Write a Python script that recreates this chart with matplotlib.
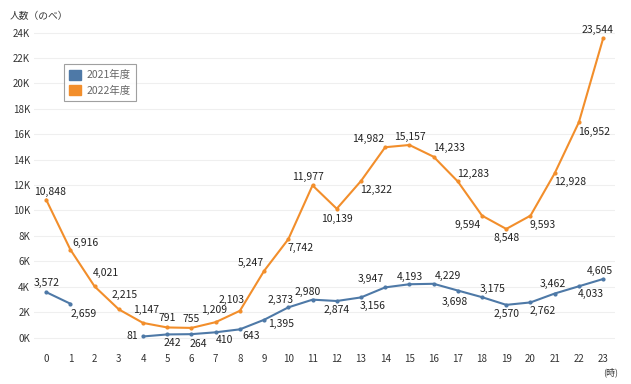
import matplotlib
matplotlib.use('Agg')
import matplotlib.pyplot as plt
import numpy as np

plt.rcParams['font.family'] = ['Noto Sans CJK JP', 'DejaVu Sans']

# データ（時間帯別の人数・のべ）
hours = list(range(24))
y2021 = [3572, 2659, np.nan, np.nan, 81, 242, 264, 410, 643, 1395, 2373, 2980,
         2874, 3156, 3947, 4193, 4229, 3698, 3175, 2570, 2762, 3462, 4033, 4605]
y2022 = [10848, 6916, 4021, 2215, 1147, 791, 755, 1209, 2103, 5247, 7742, 11977,
         10139, 12322, 14982, 15157, 14233, 12283, 9594, 8548, 9593, 12928, 16952, 23544]
series_names = ['2021年度', '2022年度']
y_ticks = list(range(0, 26000, 2000))
y_ticklabels = [f'{v // 1000}K' for v in y_ticks]

# ラベルの位置（ピクセル単位のずらし、下向きが正）
off2021 = [(0, -9), (13, 10), None, None, (-11, 0), (5, 9), (7, 10), (9, 8), (11, 7),
           (17, 4), (-8, -7), (-5, -8), (0, 9), (12, 9), (-14, -8), (0, -7), (14, -8),
           (-3, 11), (11, -8), (0, 9), (12, 9), (-2, -10), (12, 8), (-3, -8)]
off2022 = [(4, -8), (15, -7), (11, -13), (6, -14), (3, -13), (0, -9), (0, -9), (-2, -12), (-8, -11),
           (-13, -8), (12, 9), (-5, -8), (0, 10), (15, 9), (-17, -8), (0, -8), (15, -9),
           (15, -8), (-14, 9), (0, 9), (12, 9), (15, 9), (15, 10), (-6, -8)]

c2021 = '#4e79a7'
c2022 = '#f28e2b'

fig = plt.figure(figsize=(6.31, 3.84), dpi=100)
ax = fig.add_axes([0.054, 0.088, 0.921, 0.86])

ax.plot(hours, y2021, color=c2021, lw=1.5, marker='o', ms=2, label=series_names[0])
ax.plot(hours, y2022, color=c2022, lw=1.5, marker='o', ms=2, label=series_names[1])

for vals, offs in [(y2021, off2021), (y2022, off2022)]:
    for h, v, off in zip(hours, vals, offs):
        if off is None or np.isnan(v):
            continue
        ax.annotate(f'{int(v):,}', (h, v), xytext=(off[0], -off[1]), textcoords='offset pixels',
                    ha='center', va='center', fontsize=7.5, color='#222222')

ax.set_xlim(-0.5, 23.5)
ax.set_ylim(-1000, 25000)
ax.set_xticks(hours)
ax.set_xticklabels([str(h) for h in hours], fontsize=7, color='#333333')
ax.set_yticks(y_ticks)
ax.set_yticklabels(y_ticklabels, fontsize=7, color='#333333')
ax.tick_params(length=0, pad=3)
ax.tick_params(axis='x', pad=3)
for s in ax.spines.values():
    s.set_visible(False)
ax.grid(axis='y', color='#efefef', lw=0.8)
ax.set_axisbelow(True)

handles = [plt.Rectangle((0, 0), 1, 1, color=c2021), plt.Rectangle((0, 0), 1, 1, color=c2022)]
leg = fig.legend(handles, series_names, loc='upper left', bbox_to_anchor=(0.101, 0.833),
                 borderaxespad=0, fontsize=7.5, frameon=True, fancybox=False,
                 handlelength=1.1, handleheight=1.1, handletextpad=0.5, borderpad=0.55,
                 labelspacing=0.45)
leg.get_frame().set_edgecolor('#888888')
leg.get_frame().set_linewidth(0.8)
for t in leg.get_texts():
    t.set_color('#666666')

fig.text(0.016, 0.97, '人数（のべ）', fontsize=7, va='top', ha='left', color='#333333')
fig.text(0.967, 0.03, '(時)', fontsize=6.5, va='center', ha='center', color='#333333')

fig.savefig('out.png', dpi=100)
